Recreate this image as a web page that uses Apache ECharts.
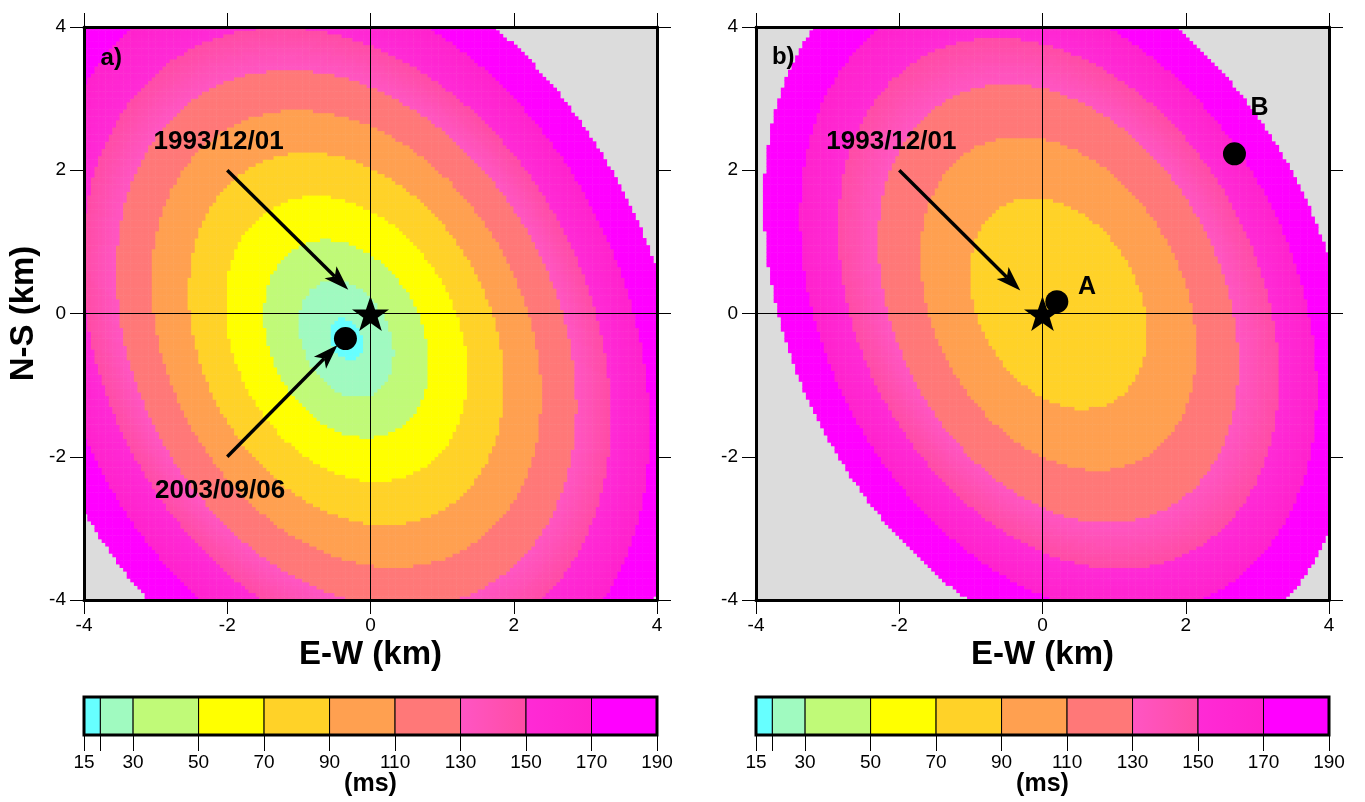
<!DOCTYPE html>
<html><head><meta charset="utf-8">
<script src="https://cdn.jsdelivr.net/npm/echarts@6/dist/echarts.min.js"></script>
<style>html,body{margin:0;padding:0;background:#fff}#c{width:1365px;height:802px}</style>
</head><body><div id="c"></div>
<script>
// ------------------------------------------------------------------
// DATA
// ------------------------------------------------------------------
const axisTicksKm = [-4, -2, 0, 2, 4];
// contour levels (ms) and the elliptical contour geometry of each (km)
const levelsA = [15, 20, 30, 50, 70, 90, 110, 130, 150, 170, 190];
const centerA = [-0.334, -0.353];
const tiltA = -0.25;
const semiXA = [0, 0.23, 0.66, 1.15, 1.69, 2.20, 2.72, 3.21, 3.69, 4.23, 4.75];
const semiYA = [0, 0.29, 0.815, 1.38, 1.99, 2.60, 3.19, 3.75, 4.35, 5.03, 5.70];

const levelsB = [75, 90, 110, 130, 150, 170, 190];
const centerB = [0.226, 0.143];
const tiltB = -0.28;
const semiXB = [0, 1.235, 1.925, 2.513, 3.075, 3.606, 4.116];
const semiYB = [0, 1.473, 2.329, 3.06, 3.703, 4.33, 5.0];

// colour scale (ms)
const bandEdges = [15, 20, 30, 50, 70, 90, 110, 130, 150, 170, 190];
const bandColorLo = ['#66ffff', '#a0fac0', '#c0fa78', '#ffff00', '#ffd228', '#ffa050', '#ff7878', '#ff55c4', '#ff2ad6', '#ff00ff'];
const bandColorHi = ['#66ffff', '#a0fac0', '#c0fa78', '#ffff00', '#ffd228', '#ffa050', '#ff7878', '#ff4ca4', '#ff22cc', '#ff00ff'];
const cbTickValues = [15, 20, 30, 50, 70, 90, 110, 130, 150, 170, 190];
const cbLabelValues = [15, 30, 50, 70, 90, 110, 130, 150, 170, 190];

// markers and annotations (km)
const starPos = [[0, 0]];
const eventA = [[-0.35, -0.35]];
const eventsB = [[0.20, 0.165], [2.68, 2.23]];
const arrowsA = [[-2.0, 2.0, -0.31, 0.33], [-2.0, -2.0, -0.46, -0.44]];
const arrowsB = [[-2.0, 2.0, -0.31, 0.32]];
const dateLabelsA = [[-2.12, 2.39, '1993/12/01'], [-2.10, -2.47, '2003/09/06']];
const dateLabelsB = [[-2.11, 2.39, '1993/12/01']];
const pointLabelsB = [[0.62, 0.37, 'A'], [3.03, 2.87, 'B']];
const panelTagA = [[-3.62, 3.56, 'a)']];
const panelTagB = [[-3.62, 3.57, 'b)']];
const crossH = [[-4, 0], [4, 0]];
const crossV = [[0, -4], [0, 4]];
const cellKm = 0.05;

// ------------------------------------------------------------------
const F = "'Liberation Sans', Arial, Helvetica, sans-serif";
const N = Math.round(8 / cellKm);
const cellCenters = [];
for (let i = 0; i < N; i++) cellCenters.push((-4 + cellKm * (i + 0.5)).toFixed(3));

function fieldValue(x, y, c, tilt, sx, sy, lv) {
  const px = x - c[0], py = y - c[1];
  let prevInv = 0;
  for (let i = 1; i < lv.length; i++) {
    const u = px / sx[i], v = py / sy[i];
    const d = Math.sqrt(Math.max(0, (u * u - 2 * tilt * u * v + v * v) / (1 - tilt * tilt)));
    const inv = d > 0 ? 1 / d : 1e9;
    if (d <= 1) {
      const frac = Math.min(1, Math.max(0, (1 - prevInv) / (inv - prevInv)));
      return lv[i - 1] + (lv[i] - lv[i - 1]) * frac;
    }
    prevInv = inv;
  }
  return null;
}
function buildField(c, tilt, sx, sy, lv) {
  const out = [];
  for (let i = 0; i < N; i++) for (let j = 0; j < N; j++) {
    const v = fieldValue(+cellCenters[i], +cellCenters[j], c, tilt, sx, sy, lv);
    if (v !== null) out.push([i, j, v]);
  }
  return out;
}
function hex2rgb(h) { return [parseInt(h.substr(1, 2), 16), parseInt(h.substr(3, 2), 16), parseInt(h.substr(5, 2), 16)]; }
function mix(a, b, t) {
  const A = hex2rgb(a), B = hex2rgb(b);
  return 'rgb(' + A.map((v, k) => Math.round(v + (B[k] - v) * t)).join(',') + ')';
}
const pieces = [];
for (let b = 0; b < bandColorLo.length; b++) {
  const lo = bandEdges[b], hi = bandEdges[b + 1];
  const n = bandColorLo[b] === bandColorHi[b] ? 1 : 10;
  for (let k = 0; k < n; k++) {
    const p = { gte: lo + (hi - lo) * k / n, color: n === 1 ? bandColorLo[b] : mix(bandColorLo[b], bandColorHi[b], (k + 0.5) / n) };
    const top = lo + (hi - lo) * (k + 1) / n;
    if (b === bandColorLo.length - 1 && k === n - 1) p.lte = top; else p.lt = top;
    pieces.push(p);
  }
}

const starPath = 'path://M50,0 L61.8,35.1 L98.1,35.1 L68.7,56.7 L79.4,91 L50,70 L20.6,91 L31.3,56.7 L1.9,35.1 L38.2,35.1 Z';

const G = [
  { left: 84, top: 27, width: 573, height: 573, show: true, backgroundColor: '#dcdcdc', borderWidth: 0 },
  { left: 84, top: 27, width: 573, height: 573 },
  { left: 756, top: 27, width: 573, height: 573, show: true, backgroundColor: '#dcdcdc', borderWidth: 0 },
  { left: 756, top: 27, width: 573, height: 573 },
  { left: 84, top: 697, width: 573, height: 38 },
  { left: 756, top: 697, width: 573, height: 38 }
];
function catAxis(g) { return { gridIndex: g, type: 'category', data: cellCenters, show: false, boundaryGap: true }; }
const frameLine = { show: true, onZero: false, lineStyle: { color: '#000', width: 3 } };
const tickStyle = { show: true, inside: false, length: 14, lineStyle: { color: '#000', width: 1 } };
function valX(g, pos) {
  const a = { gridIndex: g, type: 'value', position: pos, min: -4, max: 4, interval: 2, z: 5,
    axisLine: frameLine, axisTick: tickStyle, splitLine: { show: false },
    axisLabel: { show: pos === 'bottom', color: '#000', fontSize: 19, fontFamily: F, margin: 16 } };
  if (pos === 'bottom') {
    a.name = 'E-W (km)'; a.nameLocation = 'middle'; a.nameGap = 38; a.nameMoveOverlap = false;
    a.nameTextStyle = { color: '#000', fontSize: 33, fontWeight: 'bold', fontFamily: F };
  }
  return a;
}
function valY(g, pos, named) {
  const a = { gridIndex: g, type: 'value', position: pos, min: -4, max: 4, interval: 2, z: 5,
    axisLine: frameLine, axisTick: tickStyle, splitLine: { show: false },
    axisLabel: { show: pos === 'left', color: '#000', fontSize: 19, fontFamily: F, margin: 18 } };
  if (named) {
    a.name = 'N-S (km)'; a.nameLocation = 'middle'; a.nameGap = 44; a.nameMoveOverlap = false;
    a.nameTextStyle = { color: '#000', fontSize: 33, fontWeight: 'bold', fontFamily: F };
  }
  return a;
}
function cbX(g) {
  return { gridIndex: g, type: 'value', min: 15, max: 190, position: 'bottom', z: 5,
    axisLine: { show: false }, splitLine: { show: false },
    axisTick: { show: true, length: 16, customValues: cbTickValues, lineStyle: { color: '#000', width: 1 } },
    axisLabel: { show: true, customValues: cbLabelValues, color: '#000', fontSize: 19, fontFamily: F, margin: 18 },
    name: '(ms)', nameLocation: 'middle', nameGap: 37, nameMoveOverlap: false,
    nameTextStyle: { color: '#000', fontSize: 25, fontWeight: 'bold', fontFamily: F } };
}
function cbY(g) { return { gridIndex: g, type: 'value', min: 0, max: 1, show: false }; }

function overlaySeries(xi, yi, arrows, dots, dates, tags, points) {
  const s = [];
  s.push({ type: 'line', xAxisIndex: xi, yAxisIndex: yi, data: crossH, symbol: 'none', silent: true, z: 6,
    lineStyle: { color: '#000', width: 1 } });
  s.push({ type: 'line', xAxisIndex: xi, yAxisIndex: yi, data: crossV, symbol: 'none', silent: true, z: 6,
    lineStyle: { color: '#000', width: 1 } });
  s.push({ type: 'custom', xAxisIndex: xi, yAxisIndex: yi, data: arrows, z: 7, silent: true,
    encode: { x: [0, 2], y: [1, 3] },
    renderItem: function (params, api) {
      const st = api.coord([api.value(0), api.value(1)]);
      const tp = api.coord([api.value(2), api.value(3)]);
      const dx = tp[0] - st[0], dy = tp[1] - st[1], L = Math.hypot(dx, dy);
      const ux = dx / L, uy = dy / L;
      const hl = 25, hw = 8.5, notch = 6;
      const bx = tp[0] - ux * hl, by = tp[1] - uy * hl;
      return { type: 'group', children: [
        { type: 'line', shape: { x1: st[0], y1: st[1], x2: bx + ux * notch, y2: by + uy * notch },
          style: { stroke: '#000', lineWidth: 3.4 } },
        { type: 'polygon', shape: { points: [[tp[0], tp[1]], [bx - uy * hw, by + ux * hw],
          [bx + ux * notch, by + uy * notch], [bx + uy * hw, by - ux * hw]] }, style: { fill: '#000' } }
      ] };
    } });
  s.push({ type: 'scatter', xAxisIndex: xi, yAxisIndex: yi, data: starPos, symbol: starPath,
    symbolSize: [37, 35], itemStyle: { color: '#000', opacity: 1 }, z: 8, silent: true });
  s.push({ type: 'scatter', xAxisIndex: xi, yAxisIndex: yi, data: dots, symbol: 'circle',
    symbolSize: 23, itemStyle: { color: '#000', opacity: 1 }, z: 9, silent: true });
  const lab = (arr, size) => ({ type: 'scatter', xAxisIndex: xi, yAxisIndex: yi, symbolSize: 0, z: 10, silent: true,
    itemStyle: { opacity: 1 },
    data: arr.map(d => ({ value: [d[0], d[1]], name: d[2] })),
    label: { show: true, position: 'inside', formatter: '{b}', color: '#000', opacity: 1, fontSize: size, fontWeight: 'bold', fontFamily: F } });
  s.push(lab(dates, 26));
  s.push(lab(tags, 24));
  if (points) s.push(lab(points, 25));
  return s;
}
function colorbarSeries(xi, yi) {
  const bandIdx = bandColorLo.map((c, i) => [bandEdges[i], bandEdges[i + 1], i]);
  return [{
    type: 'custom', xAxisIndex: xi, yAxisIndex: yi, data: bandIdx, z: 3, silent: true,
    encode: { x: [0, 1] },
    renderItem: function (params, api) {
      const i = api.value(2);
      const p0 = api.coord([api.value(0), 1]), p1 = api.coord([api.value(1), 0]);
      return { type: 'rect', shape: { x: p0[0], y: p0[1], width: p1[0] - p0[0], height: p1[1] - p0[1] },
        style: { fill: new echarts.graphic.LinearGradient(0, 0, 1, 0, [
          { offset: 0, color: bandColorLo[i] }, { offset: 1, color: bandColorHi[i] }]), stroke: '#000', lineWidth: 1 } };
    }
  }, {
    type: 'custom', xAxisIndex: xi, yAxisIndex: yi, data: [[bandEdges[0], bandEdges[bandEdges.length - 1]]], z: 4, silent: true,
    encode: { x: [0, 1] },
    renderItem: function (params, api) {
      const p0 = api.coord([api.value(0), 1]), p1 = api.coord([api.value(1), 0]);
      return { type: 'rect', shape: { x: p0[0], y: p0[1], width: p1[0] - p0[0], height: p1[1] - p0[1] },
        style: { fill: null, stroke: '#000', lineWidth: 3 } };
    }
  }];
}

const option = {
  animation: false,
  backgroundColor: '#fff',
  textStyle: { fontFamily: F },
  grid: G,
  xAxis: [catAxis(0), valX(1, 'bottom'), valX(1, 'top'), catAxis(2), valX(3, 'bottom'), valX(3, 'top'), cbX(4), cbX(5)],
  yAxis: [catAxis(0), valY(1, 'left', true), valY(1, 'right', false), catAxis(2), valY(3, 'left', false), valY(3, 'right', false), cbY(4), cbY(5)],
  visualMap: { type: 'piecewise', show: false, seriesIndex: [0, 1], dimension: 2, pieces: pieces },
  series: [
    { type: 'heatmap', xAxisIndex: 0, yAxisIndex: 0, data: buildField(centerA, tiltA, semiXA, semiYA, levelsA),
      progressive: 0, silent: true, z: 1 },
    { type: 'heatmap', xAxisIndex: 3, yAxisIndex: 3, data: buildField(centerB, tiltB, semiXB, semiYB, levelsB),
      progressive: 0, silent: true, z: 1 }
  ].concat(
    overlaySeries(1, 1, arrowsA, eventA, dateLabelsA, panelTagA, null),
    overlaySeries(4, 4, arrowsB, eventsB, dateLabelsB, panelTagB, pointLabelsB),
    colorbarSeries(6, 6),
    colorbarSeries(7, 7)
  )
};
const chart = echarts.init(document.getElementById('c'));
chart.setOption(option);
</script></body></html>
